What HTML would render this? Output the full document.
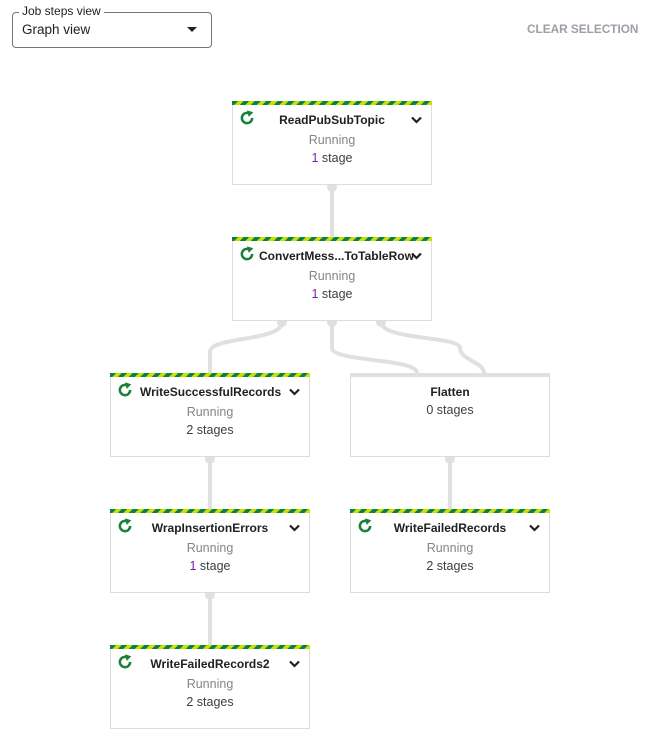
<!DOCTYPE html>
<html><head><style>
body{margin:0;width:655px;height:742px;background:#fff;font-family:"Liberation Sans",Arial,sans-serif;position:relative;overflow:hidden}
.n{position:absolute;width:198px;height:83px;border:1px solid #dadce0;border-top:none;background:#fff;box-sizing:content-box}
.n .s{position:absolute;left:-1px;right:-1px;top:0;height:4px;background:repeating-linear-gradient(-45deg,#c6e000 0 4px,#0b8043 4px 8px)}
.n .t{position:absolute;top:12px;left:0;right:0;text-align:center;font-size:12px;font-weight:bold;color:#202124}
.n .r{position:absolute;top:32px;left:0;right:0;text-align:center;font-size:12.5px;color:#80868b}
.n .g{position:absolute;top:50px;left:0;right:0;text-align:center;font-size:12.5px;color:#3c4043}
.n svg.i{position:absolute;left:6px;top:9px}
.n svg.c{position:absolute;right:9px;top:15px}
svg.e{position:absolute;left:0;top:0}
</style></head><body>
<svg class="e" width="655" height="742">
<g stroke="#e0e0e0" stroke-width="4" fill="none">
<path d="M332 184V237"/>
<path d="M282 322C282 342 210 336 210 352V373"/>
<path d="M332 322V348C332 362 417 358 417 373"/>
<path d="M381 322C381 340 460 336 460 348C460 360 484 362 484 373"/>
<path d="M210 456V509M450 456V509M210 592V645"/>
</g>
<g fill="#e0e0e0"><circle cx="282" cy="322" r="5"/><circle cx="332" cy="322" r="5"/><circle cx="381" cy="322" r="5"/><circle cx="332" cy="187" r="5"/><circle cx="210" cy="459" r="5"/><circle cx="450" cy="459" r="5"/><circle cx="210" cy="595" r="5"/></g>
</svg>
<div style="position:absolute;left:12px;top:12px;width:198px;height:34px;border:1px solid #757575;border-radius:4px"></div>
<div style="position:absolute;left:19px;top:4px;background:#fff;padding:0 3px;font-size:12px;color:#202124">Job steps view</div>
<div style="position:absolute;left:22px;top:22px;font-size:13.5px;color:#202124">Graph view</div>
<div style="position:absolute;left:187px;top:27px;width:0;height:0;border-left:5px solid transparent;border-right:5px solid transparent;border-top:5px solid #202124"></div>
<div style="position:absolute;left:527px;top:22px;font-size:11.8px;color:#9aa0a6;font-weight:bold">CLEAR SELECTION</div>

<div class="n" style="left:232px;top:101px"><div class="s"></div><svg class="i" width="16" height="16" viewBox="0 0 14 14"><path d="M11.5 7A4.5 4.5 0 1 1 8.8 2.9" stroke="#188038" stroke-width="2.2" fill="none"/><path d="M7 0.3L12.5 2 8.5 6Z" fill="#188038"/></svg><div class="t">ReadPubSubTopic</div><svg class="c" width="11" height="8"><path d="M1 1.5L5.5 6 10 1.5" stroke="#202124" stroke-width="2.2" fill="none"/></svg><div class="r">Running</div><div class="g"><span style="color:#7b1fa2">1</span> stage</div></div>
<div class="n" style="left:232px;top:237px"><div class="s"></div><svg class="i" width="16" height="16" viewBox="0 0 14 14"><path d="M11.5 7A4.5 4.5 0 1 1 8.8 2.9" stroke="#188038" stroke-width="2.2" fill="none"/><path d="M7 0.3L12.5 2 8.5 6Z" fill="#188038"/></svg><div class="t" style="left:26px;text-align:left;font-size:12px">ConvertMess...ToTableRow</div><svg class="c" width="11" height="8"><path d="M1 1.5L5.5 6 10 1.5" stroke="#202124" stroke-width="2.2" fill="none"/></svg><div class="r">Running</div><div class="g"><span style="color:#7b1fa2">1</span> stage</div></div>
<div class="n" style="left:110px;top:373px"><div class="s"></div><svg class="i" width="16" height="16" viewBox="0 0 14 14"><path d="M11.5 7A4.5 4.5 0 1 1 8.8 2.9" stroke="#188038" stroke-width="2.2" fill="none"/><path d="M7 0.3L12.5 2 8.5 6Z" fill="#188038"/></svg><div class="t" style="left:29px;text-align:left">WriteSuccessfulRecords</div><svg class="c" width="11" height="8"><path d="M1 1.5L5.5 6 10 1.5" stroke="#202124" stroke-width="2.2" fill="none"/></svg><div class="r">Running</div><div class="g">2 stages</div></div>
<div class="n" style="left:350px;top:373px"><div class="s" style="background:#e0e0e0"></div><div class="t">Flatten</div><div class="g" style="top:30px">0 stages</div></div>
<div class="n" style="left:110px;top:509px"><div class="s"></div><svg class="i" width="16" height="16" viewBox="0 0 14 14"><path d="M11.5 7A4.5 4.5 0 1 1 8.8 2.9" stroke="#188038" stroke-width="2.2" fill="none"/><path d="M7 0.3L12.5 2 8.5 6Z" fill="#188038"/></svg><div class="t">WrapInsertionErrors</div><svg class="c" width="11" height="8"><path d="M1 1.5L5.5 6 10 1.5" stroke="#202124" stroke-width="2.2" fill="none"/></svg><div class="r">Running</div><div class="g"><span style="color:#7b1fa2">1</span> stage</div></div>
<div class="n" style="left:350px;top:509px"><div class="s"></div><svg class="i" width="16" height="16" viewBox="0 0 14 14"><path d="M11.5 7A4.5 4.5 0 1 1 8.8 2.9" stroke="#188038" stroke-width="2.2" fill="none"/><path d="M7 0.3L12.5 2 8.5 6Z" fill="#188038"/></svg><div class="t">WriteFailedRecords</div><svg class="c" width="11" height="8"><path d="M1 1.5L5.5 6 10 1.5" stroke="#202124" stroke-width="2.2" fill="none"/></svg><div class="r">Running</div><div class="g">2 stages</div></div>
<div class="n" style="left:110px;top:645px"><div class="s"></div><svg class="i" width="16" height="16" viewBox="0 0 14 14"><path d="M11.5 7A4.5 4.5 0 1 1 8.8 2.9" stroke="#188038" stroke-width="2.2" fill="none"/><path d="M7 0.3L12.5 2 8.5 6Z" fill="#188038"/></svg><div class="t">WriteFailedRecords2</div><svg class="c" width="11" height="8"><path d="M1 1.5L5.5 6 10 1.5" stroke="#202124" stroke-width="2.2" fill="none"/></svg><div class="r">Running</div><div class="g">2 stages</div></div>
</body></html>
